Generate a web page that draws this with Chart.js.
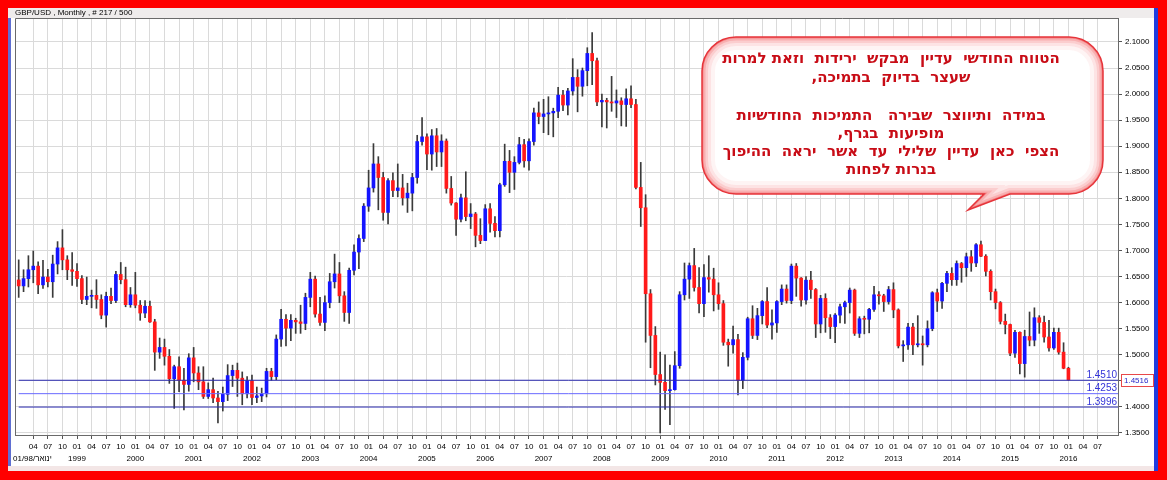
<!DOCTYPE html>
<html>
<head>
<meta charset="utf-8">
<title>GBP/USD Monthly</title>
<script src="https://cdn.jsdelivr.net/npm/chart.js"></script>
<style>
  html, body { margin: 0; padding: 0; background: #ff0000; }
  #page { position: relative; width: 1167px; height: 480px; background: #ff0000; overflow: hidden; }
  #inner { position: absolute; left: 8px; top: 8px; width: 1146px; height: 463px; background: #ffffff; }
  #titlebar { position: absolute; left: 8px; top: 8px; width: 1146px; height: 10px; background: #efecec; }
  #lstripe { position: absolute; left: 8px; top: 18px; width: 3px; height: 449px; background: #5f6fd2; }
  #rstripe { position: absolute; left: 1154px; top: 8px; width: 4px; height: 463px; background: #1f3ce0; }
  #botbar { position: absolute; left: 8px; top: 466px; width: 1146px; height: 5px; background: #f3e6e6; }
  canvas { position: absolute; left: 0; top: 0; }
</style>
</head>
<body>
<div id="page">
  <div id="inner"></div>
  <div id="titlebar"></div>
  <div id="lstripe"></div>
  <div id="rstripe"></div>
  <div id="botbar"></div>
  <canvas id="fxChart" width="1167" height="480"></canvas>
</div>
<script>
// monthly candles, Jan 1998 .. Jan 2016 (one row per year)
var openVals = [
  1.6435,1.632,1.646,1.663,1.670,1.634,1.649,1.640,1.674,1.705,1.682,1.663,
  1.660,1.646,1.606,1.612,1.614,1.606,1.576,1.612,1.604,1.654,1.644,1.596,
  1.615,1.595,1.580,1.593,1.563,1.505,1.514,1.497,1.454,1.477,1.451,1.443,
  1.494,1.465,1.448,1.420,1.433,1.417,1.410,1.424,1.460,1.470,1.455,1.425,
  1.450,1.418,1.421,1.425,1.468,1.458,1.530,1.568,1.551,1.566,1.563,1.560,
  1.610,1.645,1.578,1.562,1.600,1.640,1.655,1.613,1.581,1.662,1.697,1.723,
  1.785,1.820,1.866,1.840,1.773,1.834,1.815,1.820,1.801,1.810,1.840,1.909,
  1.918,1.885,1.920,1.889,1.910,1.819,1.791,1.760,1.801,1.765,1.770,1.729,
  1.719,1.780,1.752,1.738,1.826,1.871,1.850,1.869,1.903,1.872,1.909,1.964,
  1.957,1.962,1.964,1.967,1.998,1.979,2.006,2.032,2.015,2.045,2.078,2.064,
  1.985,1.988,1.985,1.983,1.987,1.980,1.991,1.980,1.821,1.782,1.617,1.537,
  1.462,1.447,1.431,1.433,1.479,1.615,1.645,1.671,1.629,1.598,1.648,1.645,
  1.615,1.598,1.524,1.519,1.529,1.451,1.495,1.569,1.537,1.575,1.602,1.557,
  1.561,1.602,1.626,1.604,1.670,1.647,1.605,1.643,1.625,1.559,1.608,1.571,
  1.554,1.576,1.592,1.600,1.624,1.541,1.569,1.568,1.587,1.615,1.613,1.602,
  1.625,1.586,1.517,1.519,1.553,1.519,1.521,1.519,1.550,1.619,1.603,1.637,
  1.656,1.644,1.675,1.667,1.688,1.676,1.711,1.689,1.660,1.621,1.600,1.564,
  1.558,1.503,1.543,1.483,1.535,1.528,1.571,1.562,1.534,1.513,1.543,1.505,
  1.474
];
var highVals = [
  1.682,1.663,1.690,1.699,1.678,1.681,1.664,1.691,1.717,1.740,1.690,1.696,
  1.675,1.652,1.649,1.624,1.644,1.615,1.620,1.628,1.660,1.677,1.668,1.629,
  1.658,1.604,1.604,1.603,1.568,1.532,1.530,1.510,1.480,1.496,1.474,1.502,
  1.514,1.477,1.477,1.446,1.455,1.430,1.438,1.481,1.480,1.484,1.467,1.458,
  1.461,1.438,1.436,1.474,1.474,1.538,1.587,1.577,1.577,1.570,1.595,1.618,
  1.658,1.651,1.610,1.613,1.656,1.693,1.677,1.621,1.666,1.711,1.730,1.790,
  1.854,1.905,1.880,1.850,1.838,1.849,1.866,1.846,1.829,1.848,1.921,1.955,
  1.924,1.932,1.934,1.922,1.914,1.842,1.792,1.808,1.851,1.790,1.773,1.761,
  1.788,1.790,1.765,1.829,1.904,1.892,1.880,1.917,1.913,1.914,1.973,1.985,
  1.990,1.995,1.973,2.013,2.007,2.011,2.068,2.047,2.050,2.089,2.118,2.069,
  2.000,1.992,2.034,2.008,1.993,2.010,2.016,1.990,1.869,1.807,1.625,1.554,
  1.505,1.500,1.480,1.506,1.621,1.676,1.676,1.704,1.667,1.673,1.690,1.666,
  1.638,1.604,1.530,1.555,1.539,1.504,1.572,1.594,1.589,1.604,1.629,1.586,
  1.604,1.634,1.634,1.674,1.675,1.648,1.650,1.660,1.627,1.614,1.617,1.577,
  1.579,1.597,1.603,1.628,1.626,1.573,1.574,1.589,1.631,1.621,1.616,1.631,
  1.638,1.588,1.527,1.560,1.560,1.575,1.536,1.565,1.621,1.626,1.639,1.660,
  1.667,1.680,1.677,1.695,1.700,1.713,1.718,1.692,1.663,1.626,1.602,1.578,
  1.559,1.547,1.544,1.547,1.582,1.590,1.575,1.574,1.566,1.551,1.551,1.523,
  1.476
];
var lowVals = [
  1.610,1.621,1.630,1.638,1.617,1.627,1.630,1.610,1.655,1.663,1.644,1.633,
  1.631,1.598,1.596,1.590,1.589,1.569,1.553,1.598,1.600,1.636,1.592,1.591,
  1.590,1.566,1.571,1.562,1.470,1.493,1.480,1.445,1.397,1.429,1.394,1.430,
  1.448,1.433,1.416,1.416,1.408,1.369,1.392,1.412,1.439,1.420,1.404,1.417,
  1.404,1.408,1.410,1.419,1.451,1.452,1.516,1.517,1.527,1.541,1.541,1.548,
  1.592,1.572,1.556,1.546,1.590,1.628,1.600,1.564,1.560,1.653,1.665,1.717,
  1.775,1.812,1.778,1.758,1.751,1.803,1.803,1.787,1.773,1.776,1.829,1.902,
  1.855,1.854,1.861,1.861,1.810,1.787,1.729,1.755,1.757,1.742,1.707,1.713,
  1.719,1.735,1.726,1.726,1.823,1.811,1.817,1.866,1.860,1.854,1.902,1.943,
  1.926,1.922,1.918,1.955,1.968,1.960,1.998,1.966,1.996,2.016,2.018,1.978,
  1.937,1.935,1.967,1.955,1.939,1.938,1.974,1.818,1.746,1.524,1.475,1.442,
  1.350,1.395,1.366,1.432,1.474,1.605,1.608,1.622,1.580,1.573,1.620,1.584,
  1.587,1.518,1.478,1.503,1.423,1.435,1.490,1.531,1.529,1.559,1.552,1.530,
  1.543,1.596,1.599,1.598,1.612,1.593,1.597,1.608,1.533,1.542,1.543,1.531,
  1.523,1.561,1.560,1.580,1.537,1.533,1.540,1.542,1.583,1.597,1.583,1.597,
  1.571,1.513,1.487,1.510,1.500,1.515,1.480,1.515,1.546,1.583,1.589,1.621,
  1.633,1.633,1.639,1.650,1.660,1.669,1.688,1.651,1.605,1.588,1.559,1.540,
  1.498,1.495,1.463,1.457,1.517,1.517,1.541,1.524,1.507,1.510,1.501,1.473,
  1.451
];
var closeVals = [
  1.632,1.646,1.663,1.670,1.634,1.649,1.640,1.674,1.705,1.682,1.663,1.660,
  1.646,1.606,1.612,1.614,1.606,1.576,1.612,1.604,1.654,1.644,1.596,1.615,
  1.595,1.580,1.593,1.563,1.505,1.514,1.497,1.454,1.477,1.451,1.443,1.494,
  1.465,1.448,1.420,1.433,1.417,1.410,1.424,1.460,1.470,1.455,1.425,1.450,
  1.418,1.421,1.425,1.468,1.458,1.530,1.568,1.551,1.566,1.563,1.560,1.610,
  1.645,1.578,1.562,1.600,1.640,1.655,1.613,1.581,1.662,1.697,1.723,1.785,
  1.820,1.866,1.840,1.773,1.834,1.815,1.820,1.801,1.810,1.840,1.909,1.918,
  1.885,1.920,1.889,1.910,1.819,1.791,1.760,1.801,1.765,1.770,1.729,1.719,
  1.780,1.752,1.738,1.826,1.871,1.850,1.869,1.903,1.872,1.909,1.964,1.957,
  1.962,1.964,1.967,1.998,1.979,2.006,2.032,2.015,2.045,2.078,2.064,1.985,
  1.988,1.985,1.983,1.987,1.980,1.991,1.980,1.821,1.782,1.617,1.537,1.462,
  1.447,1.431,1.433,1.479,1.615,1.645,1.671,1.629,1.598,1.648,1.645,1.615,
  1.598,1.524,1.519,1.529,1.451,1.495,1.569,1.537,1.575,1.602,1.557,1.561,
  1.602,1.626,1.604,1.670,1.647,1.605,1.643,1.625,1.559,1.608,1.571,1.554,
  1.576,1.592,1.600,1.624,1.541,1.569,1.568,1.587,1.615,1.613,1.602,1.625,
  1.586,1.517,1.519,1.553,1.519,1.521,1.519,1.550,1.619,1.603,1.637,1.656,
  1.644,1.675,1.667,1.688,1.676,1.711,1.689,1.660,1.621,1.600,1.564,1.558,
  1.503,1.543,1.483,1.535,1.528,1.571,1.562,1.534,1.513,1.543,1.505,1.474,
  1.4516
];

var firstYear = 1998;
var monthNames = ['01', '04', '07', '10'];
var priceTicks = [1.35, 1.40, 1.45, 1.50, 1.55, 1.60, 1.65, 1.70, 1.75, 1.80, 1.85, 1.90, 1.95, 2.00, 2.05, 2.10];
var levelValues = [1.4510, 1.4253, 1.3996];
var levelColors = ['#2b2bb0', '#6a6aff', '#2b2bb0'];
var lastPrice = 1.4516;
var titleText = 'GBP/USD , Monthly , # 217 / 500';
var startLabel = '01/98/ינואר';
var noteLines = [
  'הטווח החודשי  עדיין  מבקש  ירידות  וזאת למרות',
  'שעצר  בדיוק  בתמיכה,',
  '',
  'במידה  ותיווצר  שבירה   התמיכות  החודשיות',
  'מופיעות  בגרף,',
  'הצפי  כאן  עדיין  שלילי  עד  אשר  יראה  ההיפוך',
  'בנרות לפחות'
];
var noteY = [59, 78, 97, 116, 134, 152, 170];

Chart.defaults.font.family = '"Liberation Sans", Arial, sans-serif';

var tickIdx = [];
for (var t = 3; t <= 222; t += 3) tickIdx.push(t);

var wickData = closeVals.map(function(c, i) { return {x: i, y: [lowVals[i], highVals[i]]}; });
var bodyData = closeVals.map(function(c, i) { return {x: i, y: [openVals[i], c]}; });
var bodyColors = closeVals.map(function(c, i) { return c >= openVals[i] ? '#1414ff' : '#ff1a1a'; });

var levelSets = levelValues.map(function(v, k) {
    return {
        type: 'line',
        data: [{x: 0, y: v}, {x: 226.2, y: v}],
        borderColor: levelColors[k],
        borderWidth: 1,
        pointRadius: 0,
        order: 0
    };
});

function bubblePath(ctx) {
    var l = 702, t = 37, r = 1103, b = 194, rad = 34;
    ctx.beginPath();
    ctx.moveTo(l + rad, t);
    ctx.arcTo(r, t, r, b, rad);
    ctx.arcTo(r, b, l, b, rad);
    ctx.lineTo(1010, b);
    ctx.lineTo(968, 210);
    ctx.lineTo(984, b);
    ctx.arcTo(l, b, l, t, rad);
    ctx.arcTo(l, t, r, t, rad);
    ctx.closePath();
}

var overlay = {
    id: 'overlay',
    afterDraw: function(chart) {
        var ctx = chart.ctx, a = chart.chartArea, y = chart.scales.y;
        ctx.save();

        // frame top / left
        ctx.strokeStyle = '#6a6a6a';
        ctx.lineWidth = 1;
        ctx.beginPath();
        ctx.moveTo(a.left + 0.5, a.bottom);
        ctx.lineTo(a.left + 0.5, a.top + 0.5);
        ctx.lineTo(a.right, a.top + 0.5);
        ctx.stroke();

        // title
        ctx.fillStyle = '#000';
        ctx.font = '8px "Liberation Sans"';
        ctx.textAlign = 'left';
        ctx.textBaseline = 'middle';
        ctx.fillText(titleText, 15, 13);

        // first date label
        ctx.fillText(startLabel, 13, 459);

        // level labels
        ctx.font = '10px "Liberation Sans"';
        ctx.textAlign = 'right';
        ctx.textBaseline = 'bottom';
        levelValues.forEach(function(v) {
            ctx.fillStyle = '#3434d8';
            ctx.fillText(v.toFixed(4), a.right - 1, y.getPixelForValue(v));
        });

        // current price box
        var py = Math.round(y.getPixelForValue(lastPrice));
        ctx.fillStyle = '#ffffff';
        ctx.fillRect(a.right + 3, py - 6, 32, 13);
        ctx.strokeStyle = '#e8484a';
        ctx.strokeRect(a.right + 3.5, py - 5.5, 32, 12);
        ctx.fillStyle = '#2828c8';
        ctx.font = '8px "Liberation Sans"';
        ctx.textAlign = 'left';
        ctx.textBaseline = 'middle';
        ctx.fillText(lastPrice.toFixed(4), a.right + 6, py + 0.5);

        // speech bubble
        ctx.save();
        bubblePath(ctx);
        ctx.fillStyle = '#ffffff';
        ctx.fill();
        ctx.clip();
        [[26, 0.06], [18, 0.09], [12, 0.13], [7, 0.2], [3, 0.35]].forEach(function(p) {
            ctx.lineWidth = p[0];
            ctx.strokeStyle = 'rgba(240,60,64,' + p[1] + ')';
            bubblePath(ctx);
            ctx.stroke();
        });
        ctx.restore();
        bubblePath(ctx);
        ctx.lineWidth = 1.5;
        ctx.strokeStyle = '#e6343a';
        ctx.stroke();

        ctx.direction = 'rtl';
        ctx.textAlign = 'center';
        ctx.textBaseline = 'middle';
        ctx.fillStyle = '#c80c16';
        ctx.font = 'bold 15px "DejaVu Sans"';
        noteLines.forEach(function(line, k) {
            if (line) ctx.fillText(line, 891, noteY[k]);
        });
        ctx.restore();
    }
};

var ctx = document.getElementById('fxChart').getContext('2d');
var fxChart = new Chart(ctx, {
    type: 'bar',
    data: {
        datasets: [{
            label: 'body',
            data: bodyData,
            backgroundColor: bodyColors,
            barThickness: 3,
            minBarLength: 1,
            grouped: false,
            order: 1
        }, {
            label: 'wick',
            data: wickData,
            backgroundColor: '#3a3a3a',
            barThickness: 1,
            grouped: false,
            order: 2
        }].concat(levelSets)
    },
    options: {
        responsive: false,
        animation: false,
        layout: { padding: { left: 15, top: 18, right: 0, bottom: 0 } },
        plugins: { legend: { display: false }, tooltip: { enabled: false } },
        scales: {
            x: {
                type: 'linear',
                min: -0.76,
                max: 226.2,
                offset: false,
                afterBuildTicks: function(s) { s.ticks = tickIdx.map(function(v) { return {value: v}; }); },
                afterFit: function(s) { s.height = 45; },
                grid: { color: '#dadada', offset: false, tickLength: 4, tickColor: '#555' },
                border: { color: '#6a6a6a' },
                ticks: {
                    autoSkip: false,
                    maxRotation: 0,
                    padding: 2,
                    color: '#000',
                    font: { size: 8, lineHeight: 1.5 },
                    callback: function(v) {
                        var m = monthNames[(v % 12) / 3];
                        if (v % 12 === 0) return [m, String(firstYear + v / 12)];
                        return m;
                    }
                }
            },
            y: {
                position: 'right',
                min: 1.346,
                max: 2.146,
                afterBuildTicks: function(s) { s.ticks = priceTicks.map(function(v) { return {value: v}; }); },
                afterFit: function(s) { s.width = 49; },
                grid: { color: '#dadada', tickLength: 4, tickColor: '#555' },
                border: { color: '#6a6a6a' },
                ticks: {
                    padding: 3,
                    color: '#000',
                    font: { size: 8 },
                    callback: function(v) { return v.toFixed(4); }
                }
            }
        }
    },
    plugins: [overlay]
});
</script>
</body>
</html>
